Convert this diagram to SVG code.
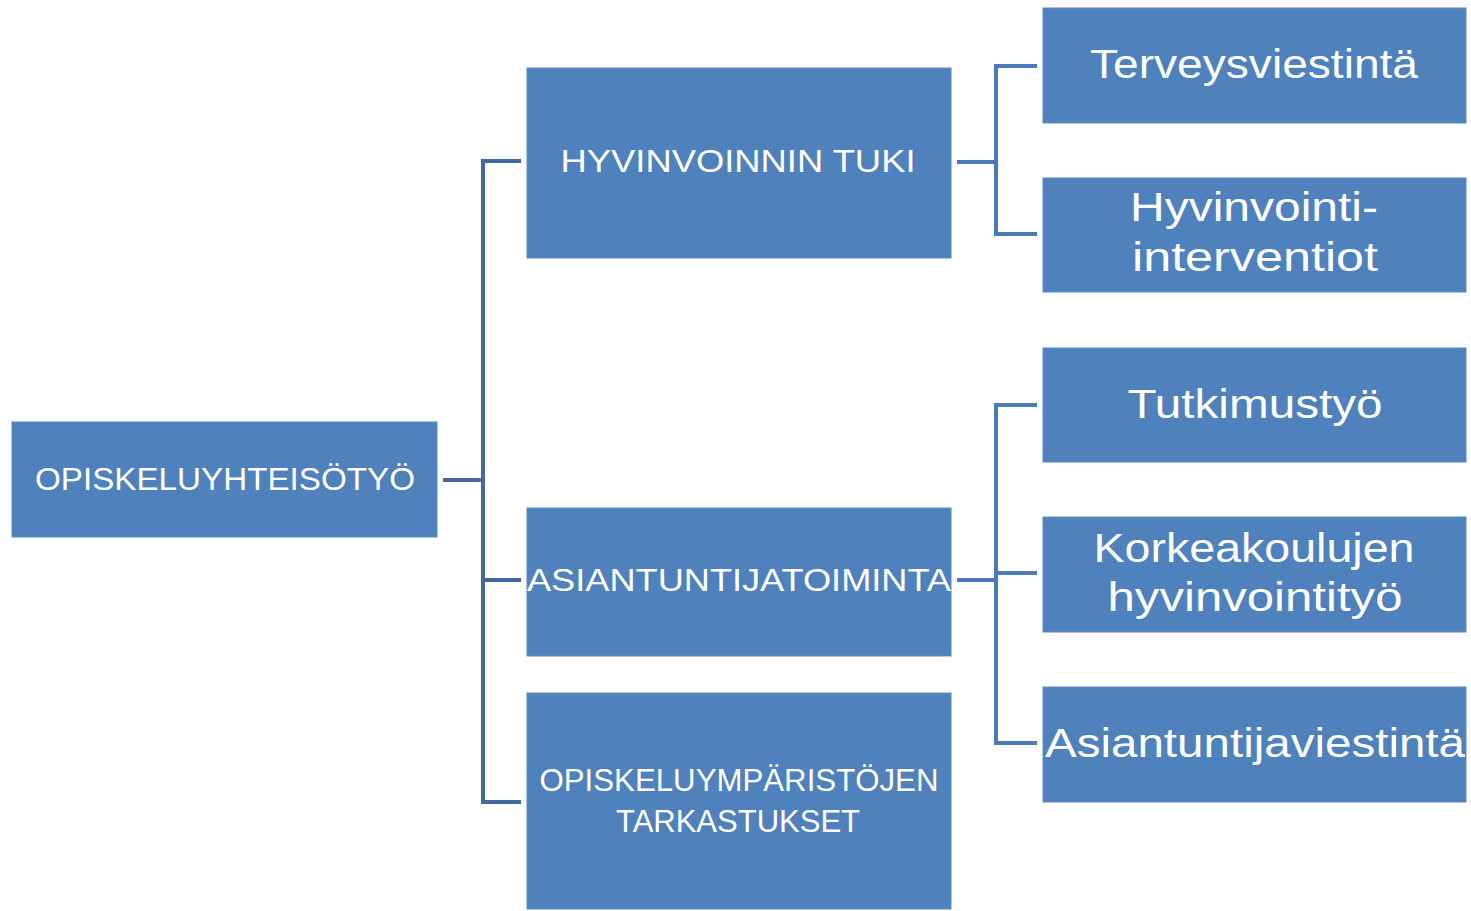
<svg xmlns="http://www.w3.org/2000/svg" width="1471" height="911" viewBox="0 0 1471 911">
<style>
.box{fill:#4F81BD;stroke:#5B8BC6;stroke-width:1}
.t{fill:#FFFFFF;font-family:"Liberation Sans","Open Sans",Arial,sans-serif;text-anchor:middle}
.m{font-size:31px}
.r{font-size:41px}
.cl{fill:none;stroke:#41699C;stroke-width:4}
.cr{fill:none;stroke:#4A7BB8;stroke-width:4}
</style>
<rect width="1471" height="911" fill="#FFFFFF"/>
<g id="connectors">
<path class="cl" d="M443,480 H483 M521,161 H483 V802 H521 M483,580 H521"/>
<path class="cr" d="M957,162 H996 M1037,66 H996 V234 H1037"/>
<path class="cr" d="M957,580 H996 M1037,405 H996 V743 H1037 M996,573 H1037"/>
</g>
<g id="n-root">
<rect class="box" x="12" y="422" width="425" height="115"/>
<text class="t m" x="225" y="490" textLength="380" lengthAdjust="spacingAndGlyphs">OPISKELUYHTEISÖTYÖ</text>
</g>
<g id="n-hyvinvoinnin">
<rect class="box" x="527" y="68" width="424" height="190"/>
<text class="t m" x="738" y="172" textLength="355" lengthAdjust="spacingAndGlyphs">HYVINVOINNIN TUKI</text>
</g>
<g id="n-asiantuntija">
<rect class="box" x="527" y="508" width="424" height="148"/>
<text class="t m" x="739" y="591" textLength="424" lengthAdjust="spacingAndGlyphs">ASIANTUNTIJATOIMINTA</text>
</g>
<g id="n-tarkastukset">
<rect class="box" x="527" y="693" width="424" height="216"/>
<text class="t m" x="739" y="791" textLength="399" lengthAdjust="spacingAndGlyphs">OPISKELUYMPÄRISTÖJEN</text>
<text class="t m" x="738" y="832" textLength="244" lengthAdjust="spacingAndGlyphs">TARKASTUKSET</text>
</g>
<g id="n-terveys">
<rect class="box" x="1043" y="8" width="423" height="115"/>
<text class="t r" x="1254" y="78" textLength="328" lengthAdjust="spacingAndGlyphs">Terveysviestintä</text>
</g>
<g id="n-interventiot">
<rect class="box" x="1043" y="178" width="423" height="114"/>
<text class="t r" x="1254" y="221" textLength="248" lengthAdjust="spacingAndGlyphs">Hyvinvointi-</text>
<text class="t r" x="1255" y="271" textLength="246" lengthAdjust="spacingAndGlyphs">interventiot</text>
</g>
<g id="n-tutkimus">
<rect class="box" x="1043" y="348" width="423" height="114"/>
<text class="t r" x="1255" y="418" textLength="255" lengthAdjust="spacingAndGlyphs">Tutkimustyö</text>
</g>
<g id="n-korkeakoulujen">
<rect class="box" x="1043" y="517" width="423" height="115"/>
<text class="t r" x="1254" y="562" textLength="321" lengthAdjust="spacingAndGlyphs">Korkeakoulujen</text>
<text class="t r" x="1255" y="611" textLength="295" lengthAdjust="spacingAndGlyphs">hyvinvointityö</text>
</g>
<g id="n-asiantuntijaviestinta">
<rect class="box" x="1043" y="687" width="423" height="115"/>
<text class="t r" x="1255" y="757" textLength="420" lengthAdjust="spacingAndGlyphs">Asiantuntijaviestintä</text>
</g>
</svg>
